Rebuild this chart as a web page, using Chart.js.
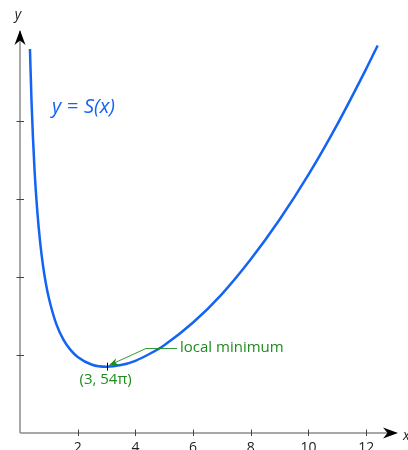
<!DOCTYPE html>
<html>
<head>
<meta charset="utf-8">
<script src="https://cdn.jsdelivr.net/npm/chart.js@4"></script>
<style>
  html, body { margin: 0; padding: 0; background: #fff; overflow: hidden; }
  canvas { display: block; }
</style>
</head>
<body>
<canvas id="areaChart" width="408" height="450"></canvas>
<script>
// values
const xValues = [0.345, 0.4, 0.5, 0.6, 0.7, 0.8, 0.9, 1.0, 1.25, 1.5, 1.75, 2.0, 2.5, 3.0, 3.5, 4.0, 4.5, 5.0, 6.0, 7.0, 8.0, 9.0, 10.0, 11.0, 12.0, 12.4];
const sValues = [984, 849, 680, 568, 488, 428, 382, 346, 281, 240, 213, 195, 175, 170, 174, 185, 203, 225, 283, 356, 445, 547, 662, 791, 933, 993];
const xTicks = [2, 4, 6, 8, 10, 12];
const xTickLabels = ['2', '4', '6', '8', '10', '12'];
const yTicks = [200, 400, 600, 800];
const minPoint = [3, 170];

const green = '#1e8c1e';
const blue = '#1464f4';

function arrowHead(ctx, tipX, tipY, angle, len, half) {
    ctx.save();
    ctx.translate(tipX, tipY);
    ctx.rotate(angle);
    ctx.beginPath();
    ctx.moveTo(0, 0);
    ctx.lineTo(-len, -half);
    ctx.lineTo(-len * 0.7, 0);
    ctx.lineTo(-len, half);
    ctx.closePath();
    ctx.fill();
    ctx.restore();
}

const axesPlugin = {
    id: 'axesPlugin',
    beforeDatasetsDraw(chart) {
        const ctx = chart.ctx;
        const xs = chart.scales.x, ys = chart.scales.y;
        const x0 = xs.getPixelForValue(0), y0 = ys.getPixelForValue(0);
        const a = chart.chartArea;
        ctx.save();
        // axes
        ctx.strokeStyle = '#8c8c8c';
        ctx.lineWidth = 1.5;
        ctx.beginPath();
        ctx.moveTo(x0, y0);
        ctx.lineTo(a.right + 1, y0);
        ctx.moveTo(x0, y0);
        ctx.lineTo(x0, a.top);
        ctx.stroke();
        ctx.fillStyle = '#000';
        arrowHead(ctx, a.right + 3, y0, 0, 15, 5.5);
        arrowHead(ctx, x0, a.top - 1, -Math.PI / 2, 15, 5.5);
        // ticks
        ctx.strokeStyle = '#444';
        ctx.lineWidth = 1;
        ctx.beginPath();
        xTicks.forEach(v => {
            const px = Math.round(xs.getPixelForValue(v)) + 0.5;
            ctx.moveTo(px, y0 - 3.5);
            ctx.lineTo(px, y0 + 3);
        });
        yTicks.forEach(v => {
            const py = Math.round(ys.getPixelForValue(v)) + 0.5;
            ctx.moveTo(x0 - 3.5, py);
            ctx.lineTo(x0 + 4, py);
        });
        ctx.stroke();
        // tick labels
        ctx.fillStyle = '#222';
        ctx.font = '14px "Open Sans"';
        ctx.textAlign = 'center';
        ctx.textBaseline = 'top';
        xTicks.forEach((v, i) => {
            ctx.fillText(xTickLabels[i], xs.getPixelForValue(v), y0 + 8);
        });
        // axis names
        ctx.font = 'italic 14px "Open Sans"';
        ctx.textBaseline = 'middle';
        ctx.fillText('y', x0 - 2, 15);
        ctx.textAlign = 'left';
        ctx.fillText('x', a.right + 8, y0 + 3);
        ctx.restore();
    },
    afterDatasetsDraw(chart) {
        const ctx = chart.ctx;
        const xs = chart.scales.x, ys = chart.scales.y;
        const mx = xs.getPixelForValue(minPoint[0]);
        const my = ys.getPixelForValue(minPoint[1]);
        ctx.save();
        // curve label
        ctx.fillStyle = blue;
        ctx.textAlign = 'left';
        ctx.textBaseline = 'middle';
        ctx.font = 'italic 20px "Open Sans"';
        ctx.fillText('y', 52, 107);
        ctx.font = '20px "Open Sans"';
        ctx.fillText('=', 67, 107);
        ctx.font = 'italic 20px "Open Sans"';
        ctx.fillText('S(x)', 84, 107);
        // minimum marker
        ctx.strokeStyle = '#000';
        ctx.lineWidth = 1;
        ctx.beginPath();
        ctx.moveTo(Math.round(mx) + 0.5, my - 4);
        ctx.lineTo(Math.round(mx) + 0.5, my + 4);
        ctx.stroke();
        // annotation leader
        ctx.strokeStyle = green;
        ctx.lineWidth = 0.9;
        ctx.beginPath();
        ctx.moveTo(177, 348.5);
        ctx.lineTo(146, 348.5);
        ctx.lineTo(mx + 4, my - 2);
        ctx.stroke();
        ctx.fillStyle = green;
        const ang = Math.atan2((my - 1) - 348.5, (mx + 2) - 146);
        arrowHead(ctx, mx + 2, my - 1, ang, 10, 3.5);
        ctx.font = '15px "Open Sans"';
        ctx.textBaseline = 'middle';
        ctx.fillText('local minimum', 180, 348);
        ctx.textAlign = 'center';
        ctx.fillText('(3, 54\u03c0)', mx - 1, 380);
        ctx.restore();
    }
};

const ctx = document.getElementById('areaChart').getContext('2d');
const areaChart = new Chart(ctx, {
    type: 'scatter',
    data: {
        datasets: [{
            data: xValues.map((x, i) => ({ x: x, y: sValues[i] })),
            showLine: true,
            borderColor: blue,
            borderWidth: 2.5,
            pointRadius: 0,
            cubicInterpolationMode: 'monotone',
            fill: false
        }]
    },
    options: {
        responsive: false,
        animation: false,
        layout: { padding: { left: 20, right: 13, top: 31, bottom: 17 } },
        plugins: { legend: { display: false }, tooltip: { enabled: false } },
        scales: {
            x: { type: 'linear', min: 0, max: 13, display: false },
            y: { type: 'linear', min: 0, max: 1030, display: false }
        }
    },
    plugins: [axesPlugin]
});
</script>
</body>
</html>
